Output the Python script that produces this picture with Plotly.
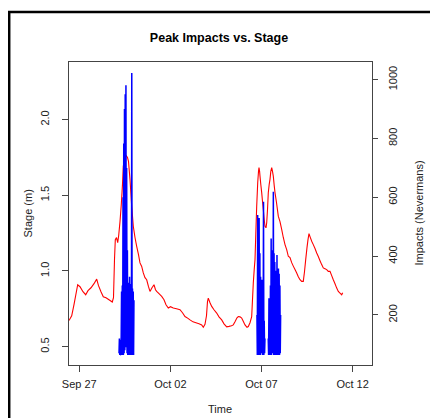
import pandas as pd
import plotly.graph_objects as go

# ---- data ----
base_date = "2014-09-27"

# stage (m): time in days after Sep 27 00:00, value
stage_days = [-0.565, -0.417, -0.291, -0.088, 0.038, 0.203, 0.351, 0.478, 0.642, 0.807,
              0.955, 1.054, 1.191, 1.317, 1.465, 1.630, 1.811, 1.877, 1.932, 1.976,
              2.042, 2.108, 2.162, 2.234, 2.305, 2.371, 2.415, 2.481, 2.563, 2.645,
              2.700, 2.783, 2.876, 2.964, 3.057, 3.150, 3.249, 3.332, 3.425, 3.513,
              3.606, 3.699, 3.798, 3.880, 3.990, 4.100, 4.182, 4.248, 4.374, 4.523,
              4.649, 4.759, 4.885, 5.005, 5.159, 5.335, 5.527, 5.664, 5.801, 5.966,
              6.076, 6.241, 6.444, 6.570, 6.718, 6.806, 6.899, 6.981, 7.036, 7.080,
              7.174, 7.267, 7.393, 7.541, 7.667, 7.816, 7.942, 8.090, 8.216, 8.353,
              8.452, 8.546, 8.655, 8.727, 8.820, 8.913, 9.012, 9.094, 9.204, 9.276,
              9.369, 9.462, 9.506, 9.550, 9.600, 9.644, 9.687, 9.737, 9.792, 9.836,
              9.863, 9.896, 9.918, 9.962, 10.011, 10.055, 10.099, 10.148, 10.192, 10.247,
              10.286, 10.330, 10.373, 10.423, 10.467, 10.511, 10.560, 10.604, 10.648, 10.697,
              10.741, 10.823, 10.922, 11.015, 11.108, 11.196, 11.290, 11.383, 11.471, 11.564,
              11.658, 11.745, 11.839, 11.932, 12.020, 12.113, 12.206, 12.294, 12.360, 12.426,
              12.497, 12.552, 12.607, 12.662, 12.756, 12.843, 12.937, 13.030, 13.118, 13.211,
              13.304, 13.392, 13.485, 13.579, 13.666, 13.760, 13.853, 13.941, 14.034, 14.128,
              14.216, 14.309, 14.402, 14.457]
stage_m = [0.673, 0.704, 0.777, 0.909, 0.896, 0.863, 0.843, 0.870, 0.889, 0.916,
           0.946, 0.903, 0.863, 0.830, 0.823, 0.810, 0.795, 0.823, 1.075, 1.207,
           1.221, 1.187, 1.234, 1.326, 1.439, 1.572, 1.691, 1.737, 1.764, 1.750,
           1.724, 1.605, 1.428, 1.295, 1.221, 1.163, 1.108, 1.053, 1.030, 0.987,
           0.956, 0.942, 0.896, 0.865, 0.889, 0.909, 0.876, 0.865, 0.850, 0.832,
           0.810, 0.777, 0.755, 0.764, 0.755, 0.750, 0.744, 0.724, 0.699, 0.687,
           0.677, 0.664, 0.656, 0.651, 0.644, 0.628, 0.648, 0.704, 0.797, 0.821,
           0.790, 0.766, 0.744, 0.722, 0.697, 0.677, 0.651, 0.631, 0.634, 0.638,
           0.644, 0.664, 0.691, 0.699, 0.697, 0.689, 0.664, 0.644, 0.628, 0.633,
           0.658, 0.699, 0.810, 0.921, 1.009, 1.075, 1.240, 1.428, 1.583, 1.658,
           1.682, 1.658, 1.626, 1.571, 1.517, 1.459, 1.406, 1.340, 1.295, 1.285,
           1.318, 1.406, 1.517, 1.572, 1.605, 1.658, 1.682, 1.658, 1.626, 1.565,
           1.517, 1.452, 1.362, 1.326, 1.274, 1.221, 1.174, 1.141, 1.097, 1.088,
           1.055, 1.032, 1.009, 0.987, 0.962, 0.942, 0.931, 0.931, 0.995, 1.075,
           1.154, 1.207, 1.247, 1.227, 1.196, 1.174, 1.148, 1.119, 1.095, 1.068,
           1.042, 1.020, 1.015, 1.009, 0.997, 0.997, 0.969, 0.942, 0.916, 0.887,
           0.865, 0.854, 0.843, 0.856]

# peak impacts (Nevermans): three bursts, sampled every 0.02 day
impact_step_days = 0.02
burst1_start = 2.18
burst1 = [70, 120, 64, 115, 66, 64, 130, 280, 64, 300, 70, 600, 64, 783, 70, 900, 80,
          950, 100, 981, 90, 700, 70, 420, 64, 310, 70, 300, 64, 330, 80, 290, 64,
          305, 70, 1023, 64, 290, 70, 280, 64, 250]
burst2_start = 9.75
burst2 = [200, 64, 540, 70, 480, 64, 530, 80, 410, 64, 330, 70, 300, 90, 320, 64,
          250, 70, 585, 64, 180, 70, 120]
burst3_start = 10.37
burst3 = [120, 64, 257, 70, 240, 64, 300, 80, 460, 64, 420, 70, 380, 90, 619, 64,
          410, 70, 380, 64, 350, 80, 330, 64, 404, 70, 300, 64, 358, 70, 340, 64,
          300, 70, 200]

tick_days = [0, 5, 10, 15]
x_range_days = [-0.565, 16.065]
stage_range = [0.379, 2.38]
impact_range = [30, 1060]

# ---- build ----
t0 = pd.Timestamp(base_date)
def to_time(d):
    return t0 + pd.to_timedelta(d, unit="D")

stage_t = [to_time(d) for d in stage_days]

imp_t, imp_v = [], []
for start, vals in [(burst1_start, burst1), (burst2_start, burst2), (burst3_start, burst3)]:
    for i, v in enumerate(vals):
        imp_t.append(to_time(start + i * impact_step_days))
        imp_v.append(v)
    imp_t.append(to_time(start + len(vals) * impact_step_days))
    imp_v.append(None)

font_family = "Liberation Sans, Arial, sans-serif"
axis_col = "#444444"
txt_col = "#222222"

W, H = 430, 410
L, R, T, B = 61, 66, 54, 53
PW, PH = W - L - R, H - T - B

def px(x):
    return (x - L) / PW

def py(y):
    return (H - B - y) / PH

fig = go.Figure()
fig.add_trace(go.Scatter(x=stage_t, y=stage_m, mode="lines",
                         line=dict(color="#FF0000", width=1.1, simplify=False),
                         yaxis="y", showlegend=False))
fig.add_trace(go.Scatter(x=imp_t, y=imp_v, mode="lines", connectgaps=False,
                         line=dict(color="#0000FF", width=1.5, simplify=False),
                         yaxis="y2", showlegend=False))

fig.update_layout(
    width=W, height=H,
    margin=dict(l=L, r=R, t=T, b=B),
    paper_bgcolor="white", plot_bgcolor="white",
    font=dict(family=font_family, size=11, color=txt_col),
    title=dict(text="<b>Peak Impacts vs. Stage</b>", x=px(211), xref="paper", xanchor="center",
               y=1 - 29.7 / H, yanchor="middle",
               font=dict(size=12.5, color="black", family=font_family)),
    xaxis=dict(type="date", range=[to_time(x_range_days[0]), to_time(x_range_days[1])],
               tickvals=[to_time(d) for d in tick_days], tickformat="%b %d",
               ticks="outside", ticklen=6, tickcolor=axis_col, tickwidth=1,
               showline=True, linecolor=axis_col, linewidth=1, mirror=True,
               showgrid=False, zeroline=False, ticklabelstandoff=3,
               tickfont=dict(size=11, color=txt_col)),
    yaxis=dict(range=stage_range, tickvals=[0.5, 1.0, 1.5, 2.0], tickformat=".1f",
               ticks="outside", ticklen=6, tickcolor=axis_col,
               showline=True, linecolor=axis_col, linewidth=1, mirror=True,
               showgrid=False, zeroline=False, tickangle=-90, ticklabelstandoff=9,
               tickfont=dict(size=11, color=txt_col)),
    yaxis2=dict(range=impact_range, overlaying="y", side="right",
                tickvals=[200, 400, 600, 800, 1000],
                ticks="outside", ticklen=5, tickcolor=axis_col,
                showline=False, showgrid=False, zeroline=False, tickangle=-90,
                ticklabelstandoff=6, tickfont=dict(size=11, color=txt_col)),
    annotations=[
        dict(text="Time", xref="paper", yref="paper", x=px(212), y=py(401),
             xanchor="center", yanchor="middle", showarrow=False,
             font=dict(size=11, color=txt_col)),
        dict(text="Stage (m)", xref="paper", yref="paper", x=px(19), y=0.5,
             xanchor="center", yanchor="middle", textangle=-90, showarrow=False,
             font=dict(size=11, color=txt_col)),
        dict(text="Impacts (Nevermans)", xref="paper", yref="paper", x=px(410), y=0.5,
             xanchor="center", yanchor="middle", textangle=-90, showarrow=False,
             font=dict(size=11, color=txt_col)),
    ],
    shapes=[
        dict(type="rect", xref="paper", yref="paper",
             x0=px(1.2), y0=-1.0, x1=3.0, y1=py(4),
             line=dict(color="black", width=2.5), fillcolor="rgba(0,0,0,0)", layer="above"),
    ],
)

fig.write_html("out.html")
